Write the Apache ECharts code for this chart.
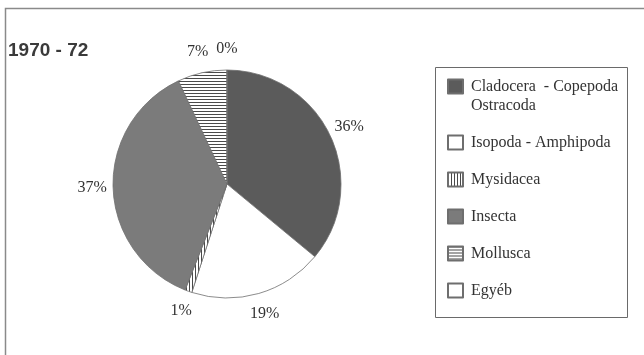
<!DOCTYPE html>
<html>
<head>
<meta charset="utf-8">
<script src="https://cdn.jsdelivr.net/npm/echarts@6/dist/echarts.min.js"></script>
<style>
  html, body { margin: 0; padding: 0; background: #ffffff; }
  #chart { width: 644px; height: 355px; }
</style>
</head>
<body>
<div id="chart"></div>
<script>
// Food composition, 1970 - 72 (percent of total)
const categories = [
  'Cladocera  - Copepoda\nOstracoda',
  'Isopoda - Amphipoda',
  'Mysidacea',
  'Insecta',
  'Mollusca',
  'Egyéb'
];
const shares = [36, 19, 1, 37, 7, 0];
const periodTitle = '1970 - 72';

// Striped fills for Mysidacea (vertical) and Mollusca (horizontal)
function stripes(vertical) {
  const c = document.createElement('canvas');
  c.width = 3; c.height = 3;
  const g = c.getContext('2d');
  g.fillStyle = '#ffffff';
  g.fillRect(0, 0, 3, 3);
  g.fillStyle = '#4a4a4a';
  if (vertical) g.fillRect(0, 0, 1, 3); else g.fillRect(0, 0, 3, 1);
  return { image: c, repeat: 'repeat' };
}

const fills = [
  '#5b5b5b',
  '#ffffff',
  stripes(true),
  '#7b7b7b',
  stripes(false),
  '#ffffff'
];

const serif = '"Liberation Serif", "Times New Roman", serif';
const center = [227, 184];

const chart = echarts.init(document.getElementById('chart'), null, { renderer: 'canvas' });

chart.setOption({
  backgroundColor: '#ffffff',
  animation: false,
  title: {
    text: periodTitle,
    left: 8,
    top: 41,
    padding: 0,
    textStyle: {
      fontFamily: '"Liberation Sans", Arial, sans-serif',
      fontWeight: 'bold',
      fontSize: 19,
      color: '#3a3a3a'
    }
  },
  graphic: [
    // page frame
    { type: 'polyline', silent: true,
      shape: { points: [[5.5, 355], [5.5, 8.5], [644, 8.5]] },
      style: { stroke: '#8a8a8a', lineWidth: 1.5, fill: null } },
    // legend box
    { type: 'rect', silent: true,
      shape: { x: 435.5, y: 67.5, width: 192, height: 250 },
      style: { stroke: '#6a6a6a', lineWidth: 1, fill: null } }
  ],
  legend: {
    orient: 'vertical',
    left: 447,
    top: 58,
    padding: 0,
    itemWidth: 15,
    itemHeight: 14,
    itemGap: 18,
    selectedMode: false,
    icon: 'rect',
    // a leading blank line keeps the first line of a two-line name level with its swatch
    formatter: name => (name.indexOf('\n') >= 0 ? '\n' + name : name),
    textStyle: {
      fontFamily: serif,
      fontSize: 16,
      color: '#333333',
      lineHeight: 19,
      padding: [0, 0, 0, 3]
    },
    data: categories
  },
  series: [
    {
      type: 'pie',
      name: 'shares',
      center: center,
      radius: 114,
      startAngle: 90,
      clockwise: true,
      silent: true,
      avoidLabelOverlap: false,
      label: { show: false },
      labelLine: { show: false },
      itemStyle: { borderColor: '#6e6e6e', borderWidth: 0.8 },
      data: categories.map((name, i) => ({
        name: name,
        value: shares[i],
        itemStyle: { color: fills[i] }
      }))
    },
    {
      // outer ring carrying the percentage labels
      type: 'pie',
      name: 'labels',
      center: center,
      radius: [114, 150],
      startAngle: 90,
      clockwise: true,
      silent: true,
      avoidLabelOverlap: false,
      itemStyle: { color: 'rgba(0,0,0,0)', borderWidth: 0 },
      label: {
        show: true,
        position: 'inside',
        formatter: '{c}%',
        fontFamily: serif,
        fontSize: 16,
        color: '#333333'
      },
      labelLine: { show: false },
      data: categories.map((name, i) => ({ name: name, value: shares[i] }))
    }
  ]
});
</script>
</body>
</html>
